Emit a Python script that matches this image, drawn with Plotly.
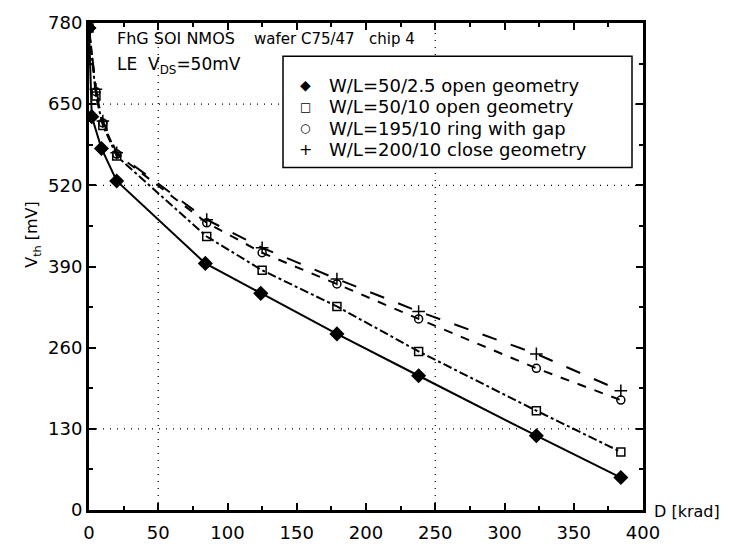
import plotly.graph_objects as go

# Threshold voltage vs. total dose, FhG SOI NMOS, wafer C75/47, chip 4
dose_a = [0, 2, 9, 20, 84, 124, 179, 238, 323, 384]
vth_a = [772, 630, 579, 527, 395, 347, 282, 215, 119, 52]

dose_b = [0, 5, 10, 20, 85, 125, 179, 238, 323, 384]
vth_b = [772, 663, 616, 567, 438, 384, 326, 254, 159, 93]

dose_c = [0, 5, 10, 20, 85, 125, 179, 238, 323, 384]
vth_c = [772, 670, 620, 570, 460, 412, 362, 306, 227, 176]

dose_d = [0, 5, 10, 20, 85, 125, 179, 238, 323, 384]
vth_d = [772, 674, 623, 572, 465, 420, 370, 318, 250, 191]

names = [
    "W/L=50/2.5 open geometry",
    "W/L=50/10 open geometry",
    "W/L=195/10 ring with gap",
    "W/L=200/10 close geometry",
]
legend_glyphs = ["◆", "□", "○", "+"]
x_ticks = [0, 50, 100, 150, 200, 250, 300, 350, 400]
y_ticks = [0, 130, 260, 390, 520, 650, 780]

series = [
    (dose_a, vth_a, "solid", "diamond", 10),
    (dose_b, vth_b, "dashdot", "square-open", 8),
    (dose_c, vth_c, "dash", "circle-open", 8),
    (dose_d, vth_d, "longdash", "cross-thin-open", 9),
]

fig = go.Figure()
for (x, y, dash, sym, size), name in zip(series, names):
    fig.add_trace(go.Scatter(
        x=x, y=y, mode="lines+markers", name=name, showlegend=False,
        line=dict(color="black", width=2, dash=dash),
        marker=dict(symbol=sym, size=size, color="black",
                    line=dict(color="black", width=1.5)),
    ))

# sparse dotted grid
grid_line = dict(color="black", width=1.2, dash="1px,6px")
for gx in [50, 250]:
    fig.add_vline(x=gx, line=grid_line, layer="below")
for gy in [130, 520, 650]:
    fig.add_hline(y=gy, line=grid_line, layer="below")

font = "DejaVu Sans"
L, R, T, B = 89, 643, 18, 517


def px(xp):
    return (xp - L) / (R - L)


def py(yp):
    return (B - yp) / (B - T)


fig.update_layout(
    width=737, height=555,
    margin=dict(l=L, r=737 - R, t=T, b=555 - B),
    paper_bgcolor="white", plot_bgcolor="white",
    font=dict(family=font, size=18, color="black"),
    showlegend=False,
    xaxis=dict(
        range=[0, 400], tickvals=x_ticks, showgrid=False, zeroline=False,
        showline=True, linecolor="black", linewidth=3, mirror="allticks",
        ticks="inside", ticklen=7, tickwidth=1.5, tickcolor="black",
        minor=dict(dtick=25, ticks="inside", ticklen=4, tickcolor="black"),
        tickfont=dict(family=font, size=18), ticklabelstandoff=4,
    ),
    yaxis=dict(
        range=[0, 780], tickvals=y_ticks, showgrid=False, zeroline=False,
        showline=True, linecolor="black", linewidth=3, mirror="allticks",
        ticks="inside", ticklen=7, tickwidth=1.5, tickcolor="black",
        minor=dict(dtick=65, ticks="inside", ticklen=4, tickcolor="black"),
        tickfont=dict(family=font, size=18),
    ),
)

# legend box with symbol glyphs and series names
fig.add_shape(type="rect", xref="paper", yref="paper",
              x0=px(283), x1=px(632), y0=py(166), y1=py(52),
              line=dict(color="black", width=1.5), fillcolor="white", layer="above")
legend_rows = [82, 104, 126, 148]
glyph_sizes = [14, 12, 12, 16]
for name, glyph, gs, row in zip(names, legend_glyphs, glyph_sizes, legend_rows):
    fig.add_annotation(text=glyph, xref="paper", yref="paper",
                       x=px(305), y=py(row), xanchor="center", yanchor="middle",
                       showarrow=False, font=dict(family=font, size=gs, color="black"))
    fig.add_annotation(text=name, xref="paper", yref="paper",
                       x=px(327), y=py(row), xanchor="left", yanchor="middle",
                       showarrow=False, font=dict(family=font, size=18, color="black"))

annots = [
    dict(text="FhG SOI NMOS", x=115, y=34, size=16),
    dict(text="wafer C75/47", x=252, y=34, size=15),
    dict(text="chip 4", x=367, y=34, size=15),
    dict(text="LE  V<sub>DS</sub>=50mV", x=115, y=62, size=17),
    dict(text="D [krad]", x=652, y=519, size=16),
]
for a in annots:
    fig.add_annotation(
        text=a["text"], xref="paper", yref="paper",
        x=px(a["x"]), y=py(a["y"]),
        xanchor="left", yanchor="middle", showarrow=False,
        font=dict(family=font, size=a["size"], color="black"),
    )

# rotated axis title
fig.add_annotation(
    text="V<sub>th</sub> [mV]", xref="paper", yref="paper",
    x=px(33), y=py(235), textangle=-90,
    xanchor="center", yanchor="middle", showarrow=False,
    font=dict(family=font, size=16, color="black"),
)

fig.write_html("out.html")
